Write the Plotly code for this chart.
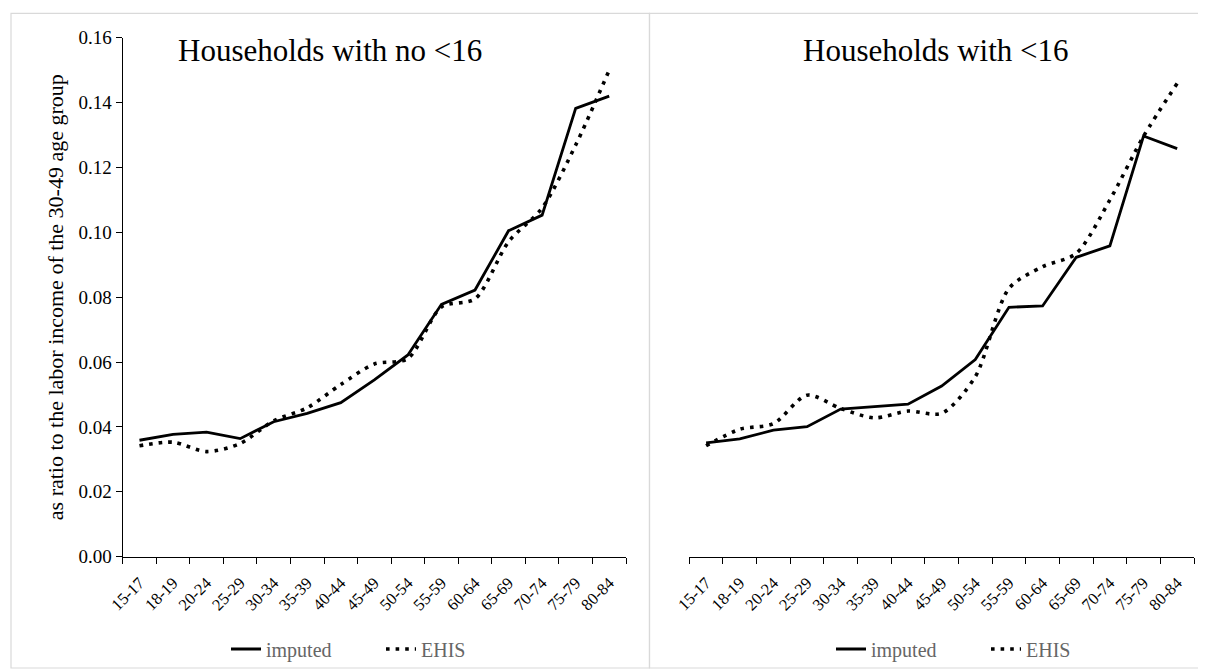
import plotly.graph_objects as go

# The page body adds an 8px margin, so the figure is sized to fit the 1206x671 window
OFF = 8
W, H = 1206 - OFF, 671 - OFF

age_groups = ["15-17", "18-19", "20-24", "25-29", "30-34", "35-39", "40-44", "45-49",
              "50-54", "55-59", "60-64", "65-69", "70-74", "75-79", "80-84"]

# Households with no <16
no_kids_imputed = [0.0359, 0.0377, 0.0384, 0.0364, 0.0416, 0.0442, 0.0475, 0.0545,
                   0.0622, 0.0778, 0.0822, 0.1005, 0.1053, 0.1382, 0.1420]
no_kids_ehis = [0.0342, 0.0353, 0.0324, 0.0349, 0.0419, 0.0459, 0.0531, 0.0594,
                0.0611, 0.0770, 0.0795, 0.0971, 0.1075, 0.1269, 0.1500]

# Households with <16
kids_imputed = [0.0351, 0.0363, 0.0390, 0.0401, 0.0455, 0.0462, 0.0470, 0.0526,
                0.0608, 0.0769, 0.0773, 0.0923, 0.0958, 0.1297, 0.1258]
kids_ehis = [0.0342, 0.0393, 0.0410, 0.0498, 0.0457, 0.0428, 0.0449, 0.0442,
             0.0555, 0.0827, 0.0894, 0.0935, 0.1100, 0.1296, 0.1459]

y_ticks = [0.00, 0.02, 0.04, 0.06, 0.08, 0.10, 0.12, 0.14, 0.16]

FONT = "Liberation Serif, Times New Roman, serif"
DOT = "3.6px,6px"

def px_x(v):
    return (v - OFF) / W

def px_y(v):
    return (H - (v - OFF)) / H

fig = go.Figure()

fig.add_trace(go.Scatter(x=age_groups, y=no_kids_imputed, name="imputed", mode="lines",
                         line=dict(color="black", width=2.8), xaxis="x", yaxis="y",
                         legend="legend"))
fig.add_trace(go.Scatter(x=age_groups, y=no_kids_ehis, name="EHIS", mode="lines",
                         line=dict(color="black", width=3.6, dash=DOT, shape="spline", smoothing=0.8),
                         xaxis="x", yaxis="y", legend="legend"))
fig.add_trace(go.Scatter(x=age_groups, y=kids_imputed, name="imputed", mode="lines",
                         line=dict(color="black", width=2.8), xaxis="x2", yaxis="y2",
                         legend="legend2"))
fig.add_trace(go.Scatter(x=age_groups, y=kids_ehis, name="EHIS", mode="lines",
                         line=dict(color="black", width=3.6, dash=DOT, shape="spline", smoothing=0.8),
                         xaxis="x2", yaxis="y2", legend="legend2"))

ydom = [px_y(556.7), px_y(37.7)]
xcommon = dict(type="category", range=[-0.5, 14.5], showline=True, linecolor="black",
               linewidth=1.3, ticks="outside", ticklen=6, tickwidth=1.3, tickcolor="black",
               tickson="boundaries", tickangle=-45, showgrid=False, zeroline=False,
               automargin=False, ticklabelstandoff=9,
               tickfont=dict(family=FONT, size=16.5, color="black"), fixedrange=True)

legend_common = dict(orientation="h", yanchor="middle", xanchor="left",
                     font=dict(family=FONT, size=20, color="#666666"), itemwidth=30,
                     entrywidth=110, bgcolor="rgba(0,0,0,0)", borderwidth=0)

fig.update_layout(
    width=W, height=H,
    margin=dict(l=0, r=0, t=0, b=0, pad=0),
    paper_bgcolor="white", plot_bgcolor="white",
    font=dict(family=FONT, color="black"),
    xaxis=dict(domain=[px_x(122.7), px_x(626)], anchor="y", **xcommon),
    xaxis2=dict(domain=[px_x(689.3), px_x(1194)], anchor="y2", **xcommon),
    yaxis=dict(domain=ydom, anchor="x", range=[0, 0.16], tickvals=y_ticks, tickformat=".2f",
               showline=True, linecolor="black", linewidth=1.3, ticks="outside", ticklen=6,
               tickwidth=1.3, tickcolor="black", showgrid=False, zeroline=False,
               automargin=False, fixedrange=True,
               tickfont=dict(family=FONT, size=19, color="black")),
    yaxis2=dict(domain=ydom, anchor="x2", range=[0, 0.16], showline=False, showticklabels=False,
                ticks="", showgrid=False, zeroline=False, automargin=False, fixedrange=True),
    legend=dict(x=px_x(226), y=px_y(649), **legend_common),
    legend2=dict(x=px_x(831), y=px_y(649), **legend_common),
    showlegend=True,
)

# Panel borders
fig.add_shape(type="rect", xref="paper", yref="paper", x0=px_x(11), x1=px_x(649.5),
              y0=px_y(668), y1=px_y(13.3), line=dict(color="#d9d9d9", width=1.2))
fig.add_shape(type="rect", xref="paper", yref="paper", x0=px_x(649.5), x1=px_x(1212),
              y0=px_y(668), y1=px_y(13.3), line=dict(color="#d9d9d9", width=1.2))

# Titles
fig.add_annotation(text="Households with no <16", xref="paper", yref="paper",
                   x=px_x(330), y=px_y(50), xanchor="center", yanchor="middle", showarrow=False,
                   font=dict(family=FONT, size=31, color="black"))
fig.add_annotation(text="Households with <16", xref="paper", yref="paper",
                   x=px_x(935), y=px_y(50), xanchor="center", yanchor="middle", showarrow=False,
                   font=dict(family=FONT, size=31, color="black"))
# Y axis title
fig.add_annotation(text="as ratio to the labor income of the 30-49 age group", xref="paper",
                   yref="paper", x=px_x(55), y=(ydom[0] + ydom[1]) / 2, textangle=-90,
                   xanchor="center", yanchor="middle", showarrow=False,
                   font=dict(family=FONT, size=22, color="black"))

fig.write_html("out.html")
